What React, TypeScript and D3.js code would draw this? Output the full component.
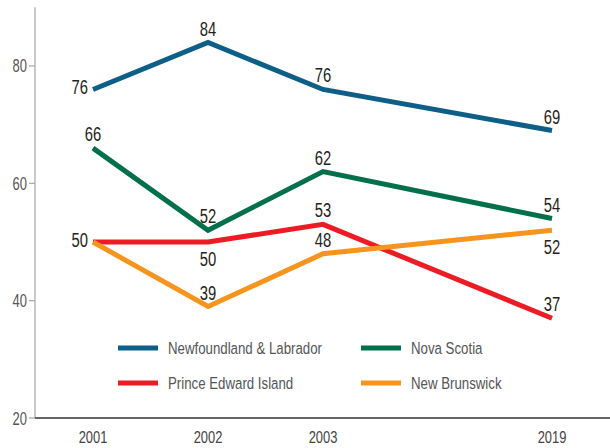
import React from 'react';
import * as d3 from 'd3';

// survey years and values per province
const years = [2001, 2002, 2003, 2019];
const provinces = ['Newfoundland & Labrador', 'Nova Scotia', 'Prince Edward Island', 'New Brunswick'];
const nlValues = [76, 84, 76, 69];
const nsValues = [66, 52, 62, 54];
const peiValues = [50, 50, 53, 37];
const nbValues = [50, 39, 48, 52];
const yTicks = [20, 40, 60, 80];

// where each value label sits relative to its point
const nlPlace = ['left', 'above', 'above', 'above'];
const nsPlace = ['above', 'above', 'above', 'above'];
const peiPlace = ['none', 'below', 'above', 'above'];
const nbPlace = ['left', 'above', 'above', 'below'];

const colors = ['#0e5f87', '#00704a', '#ed1c24', '#f7941d'];
const font = "'Liberation Sans', Arial, sans-serif";

const W = 610;
const H = 448;

// no condensed font installed, so squeeze a regular one horizontally
const Txt = ({ x, y, size, fill, anchor = 'start', sx = 0.78, children }) => (
  <text transform={`translate(${x},${y}) scale(${sx},1)`} textAnchor={anchor} fontSize={size} fill={fill}>
    {children}
  </text>
);

const App = () => {
  // the gap between 2003 and 2019 is compressed, so a piecewise scale
  const x = d3.scaleLinear().domain([2001, 2003, 2019]).range([93, 323, 552]);
  const y = d3.scaleLinear().domain([20, 90]).range([418, 7.3]);

  const series = [
    { name: provinces[0], values: nlValues, place: nlPlace, color: colors[0] },
    { name: provinces[1], values: nsValues, place: nsPlace, color: colors[1] },
    { name: provinces[2], values: peiValues, place: peiPlace, color: colors[2] },
    { name: provinces[3], values: nbValues, place: nbPlace, color: colors[3] },
  ];

  const line = d3.line<number>()
    .x((_, i) => x(years[i]))
    .y((d) => y(d));

  const axisX = 35;
  const legendCols = [118, 361];
  const legendRows = [348, 383];

  return (
    <svg width={W} height={H} style={{ position: 'absolute', left: 0, top: 0, background: '#fff' }}
      fontFamily={font}>
      {/* y axis */}
      <line x1={axisX} x2={axisX} y1={y(90)} y2={y(20)} stroke="#a6a6a6" strokeWidth={1.2} />
      {yTicks.map((t) => (
        <g key={t}>
          <line x1={axisX - 6} x2={axisX} y1={y(t)} y2={y(t)} stroke="#a6a6a6" strokeWidth={1.2} />
          <Txt x={axisX - 8} y={y(t) + 6.5} anchor="end" size={18} fill="#555" sx={0.72}>{t}</Txt>
        </g>
      ))}
      {/* x axis */}
      <line x1={axisX} x2={W} y1={y(20)} y2={y(20)} stroke="#333" strokeWidth={1.5} />
      {years.map((yr) => (
        <Txt key={yr} x={x(yr)} y={443} anchor="middle" size={17} fill="#444" sx={0.76}>{yr}</Txt>
      ))}

      {/* lines */}
      {series.map((s) => (
        <path key={s.name} d={line(s.values) ?? ''} fill="none" stroke={s.color} strokeWidth={5}
          strokeLinejoin="miter" strokeLinecap="butt" />
      ))}

      {/* value labels */}
      {series.map((s) => s.values.map((v, i) => {
        const p = s.place[i];
        if (p === 'none') return null;
        const px = x(years[i]);
        const py = y(v);
        let tx = px;
        let ty = py - 7;
        let anchor = 'middle';
        if (p === 'below') ty = py + 24;
        if (p === 'left') { tx = px - 5; ty = py + 5; anchor = 'end'; }
        return (
          <Txt key={s.name + i} x={tx} y={ty} anchor={anchor} size={19.5} fill="#231f20" sx={0.76}>{v}</Txt>
        );
      }))}

      {/* legend */}
      {series.map((s, i) => {
        const lx = legendCols[i % 2];
        const ly = legendRows[Math.floor(i / 2)];
        return (
          <g key={'lg' + s.name}>
            <line x1={lx} x2={lx + 40} y1={ly} y2={ly} stroke={s.color} strokeWidth={5} />
            <Txt x={lx + 50} y={ly + 6} size={17} fill="#555" sx={0.78}>{s.name}</Txt>
          </g>
        );
      })}
    </svg>
  );
};

export default App;
